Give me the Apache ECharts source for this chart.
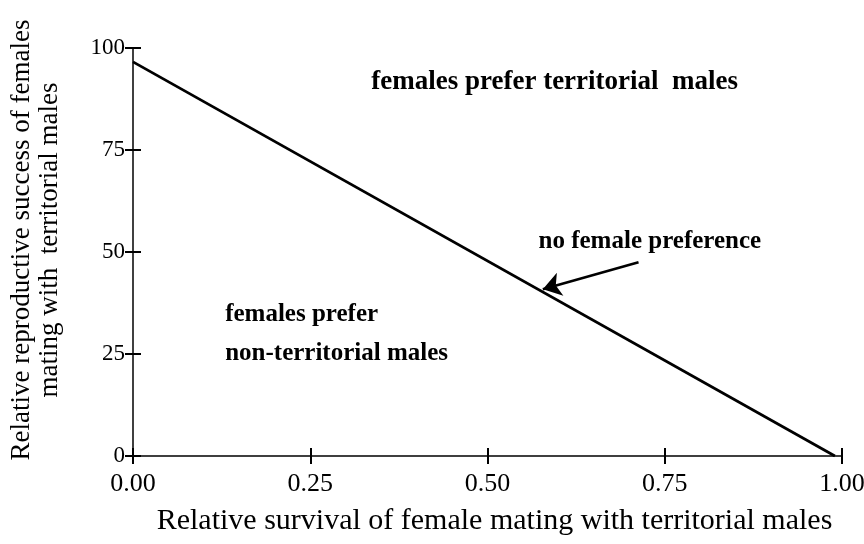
<!DOCTYPE html>
<html>
<head>
<meta charset="utf-8">
<script src="https://cdn.jsdelivr.net/npm/echarts@6/dist/echarts.min.js"></script>
<style>html,body{margin:0;padding:0;background:#fff;}#c{width:864px;height:544px;}</style>
</head>
<body>
<div id="c"></div>
<script>
// Data
var boundaryLine = [[0.0, 96.6], [0.99, 0.0]];
var xTicks = [0, 0.25, 0.5, 0.75, 1.0];
var yTicks = [0, 25, 50, 75, 100];
var annotations = [
  {text: 'females prefer territorial  males', x: 0.336, y: 91.6, size: 27},
  {text: 'no female preference', x: 0.572, y: 52.5, size: 25},
  {text: 'females prefer\nnon-territorial males', x: 0.130, y: 30.0, size: 25}
];
var arrowFrom = [0.713, 47.5];
var arrowTo = [0.578, 40.9];
var xTitle = 'Relative survival of female mating with territorial males';
var yTitle = 'Relative reproductive success of females\nmating with  territorial males';

var FONT = '"Liberation Serif", "Times New Roman", serif';
var chart = echarts.init(document.getElementById('c'), null, {renderer: 'canvas'});
var axisCommon = {
  type: 'value',
  splitLine: {show: false},
  axisLine: {show: true, lineStyle: {color: '#000', width: 1.5}},
  axisTick: {show: true, length: 8, lineStyle: {color: '#000', width: 2}}
};
chart.setOption({
  backgroundColor: '#fff',
  animation: false,
  grid: {left: 133, right: 22, top: 48, bottom: 88, containLabel: false, outerBoundsMode: 'none'},
  xAxis: [
    Object.assign({}, axisCommon, {
      min: 0, max: 1, interval: 0.25,
      name: xTitle, nameLocation: 'middle', nameGap: 50,
      nameTextStyle: {fontFamily: FONT, fontSize: 30, color: '#000', padding: [0, 0, 0, 14]},
      axisLabel: {fontFamily: FONT, fontSize: 26, color: '#000', margin: 15,
        formatter: function (v) { return v.toFixed(2); }}
    }),
    Object.assign({}, axisCommon, {
      min: 0, max: 1, interval: 0.25, position: 'bottom',
      axisLine: {show: false},
      axisTick: {show: true, inside: true, length: 8, lineStyle: {color: '#000', width: 2}},
      axisLabel: {show: false}
    })
  ],
  yAxis: [
    Object.assign({}, axisCommon, {
      min: 0, max: 100, interval: 25,
      name: yTitle, nameLocation: 'middle', nameGap: 69,
      nameTextStyle: {fontFamily: FONT, fontSize: 27, color: '#000', lineHeight: 28,
        padding: [0, 0, 0, 24]},
      axisLabel: {fontFamily: FONT, fontSize: 23, color: '#000', margin: 8}
    }),
    Object.assign({}, axisCommon, {
      min: 0, max: 100, interval: 25, position: 'left',
      axisLine: {show: false},
      axisTick: {show: true, inside: true, length: 8, lineStyle: {color: '#000', width: 2}},
      axisLabel: {show: false}
    })
  ],
  series: [
    {
      type: 'line', xAxisIndex: 0, yAxisIndex: 0,
      data: boundaryLine, symbol: 'none',
      lineStyle: {color: '#000', width: 2.8}
    },
    {
      type: 'scatter', xAxisIndex: 0, yAxisIndex: 0,
      symbolSize: 0, itemStyle: {opacity: 1},
      data: annotations.map(function (a) {
        return {value: [a.x, a.y], name: a.text, label: {fontSize: a.size}};
      }),
      label: {
        show: true, position: 'right', distance: 0, opacity: 1,
        formatter: function (p) { return p.name; },
        fontFamily: FONT, fontWeight: 'bold', color: '#000', lineHeight: 39,
        textBorderWidth: 0
      }
    },
    {
      type: 'lines', coordinateSystem: 'cartesian2d', xAxisIndex: 0, yAxisIndex: 0,
      data: [{coords: [arrowFrom, arrowTo]}],
      symbol: ['none', 'arrow'], symbolSize: 18,
      lineStyle: {color: '#000', width: 2.6, opacity: 1, curveness: 0}
    }
  ]
});
</script>
</body>
</html>
